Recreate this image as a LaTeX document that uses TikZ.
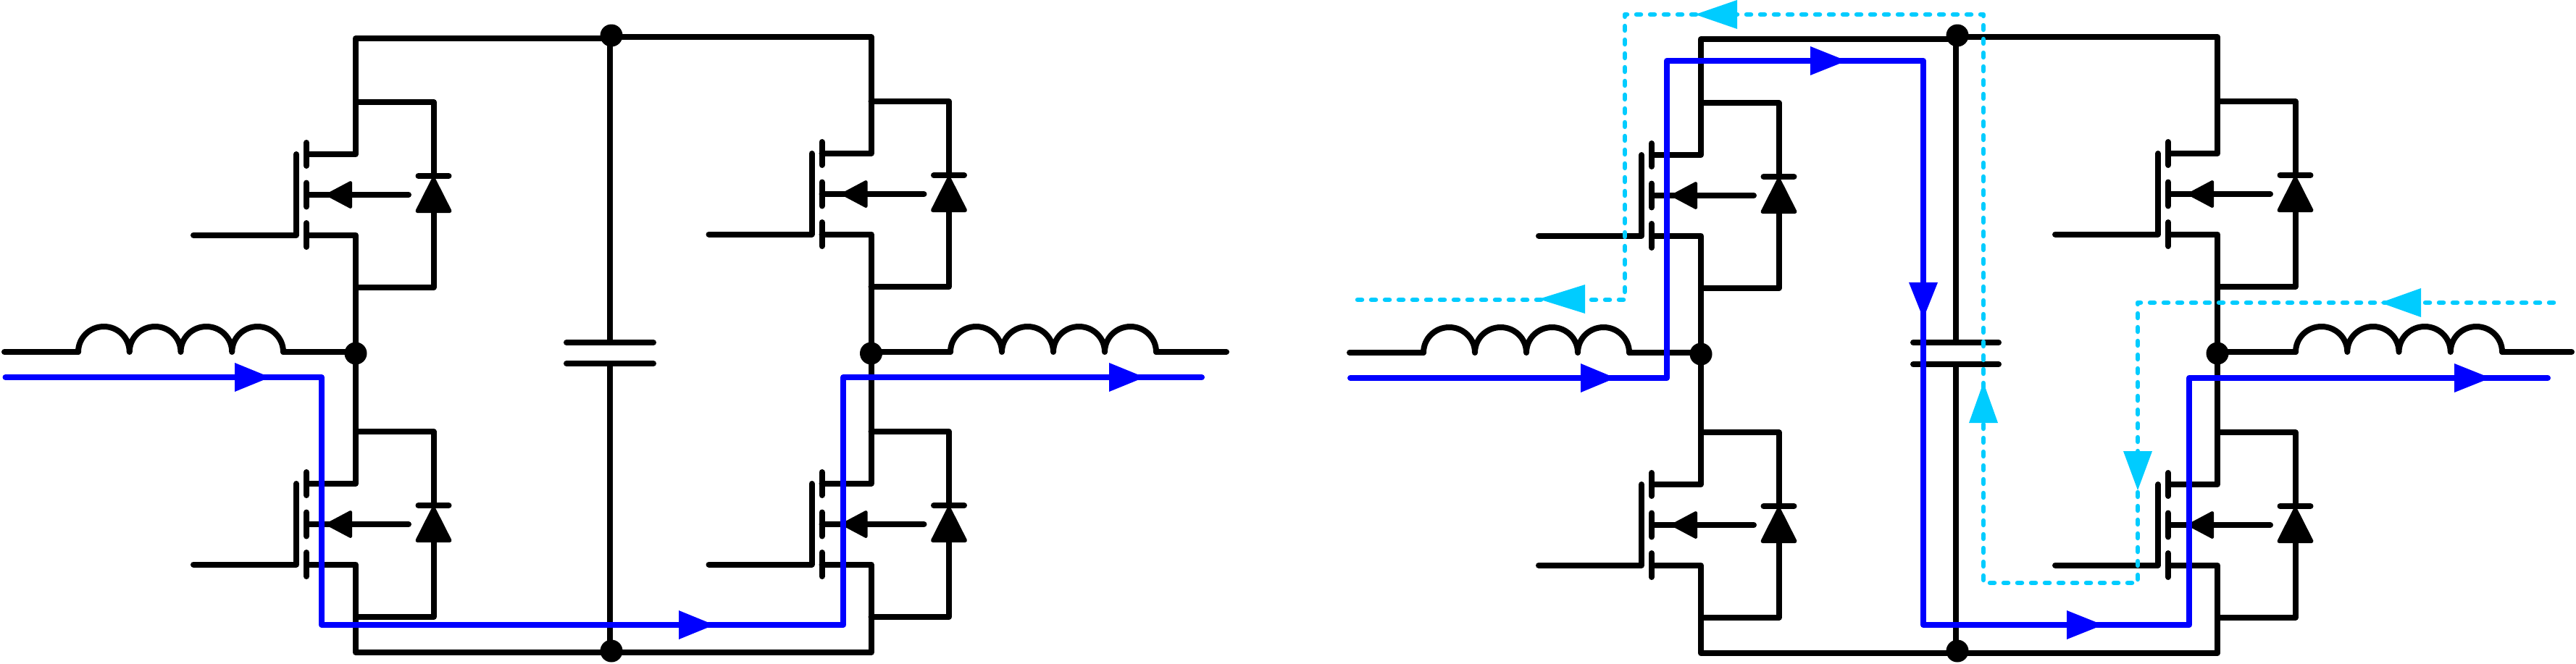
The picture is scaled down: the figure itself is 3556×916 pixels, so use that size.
\documentclass[tikz,border=0pt]{standalone}
\definecolor{flowblue}{RGB}{0,0,255}
\definecolor{flowcyan}{RGB}{0,204,255}
\tikzset{
  wire/.style={draw=black,line width=8pt,line cap=round,line join=round},
  bodyhead/.style={fill=black,draw=black,line width=4pt,line join=round},
  diodehead/.style={fill=black,draw=black,line width=5pt,line join=round},
  junction/.style={circle,fill=black,draw=none,inner sep=0pt,minimum size=31pt},
  mainflow/.style={draw=flowblue,line width=8pt,line cap=round,line join=round},
  altflow/.style={draw=flowcyan,line width=6.5pt,line cap=round,line join=round,dash pattern=on 6pt off 13pt},
}
% MOSFET with antiparallel diode; (0,0) is the top junction on the leg's vertical
\newcommand{\mosleg}[3]{%
\begin{scope}[shift={(#2,#3)}]
  \coordinate (#1-d) at (0,0);
  \coordinate (#1-b) at (0,256);
  \coordinate (#1-drain) at (0,72);
  \coordinate (#1-src) at (0,183.5);
  \coordinate (#1-dx) at (107.5,0);
  \coordinate (#1-bx) at (107.5,256);
  \coordinate (#1-bar) at (107.5,102);
  \coordinate (#1-base) at (107.5,150);
  \coordinate (#1-ch1) at (-68,72);
  \coordinate (#1-ch3) at (-68,183.5);
  \coordinate (#1-g) at (-82,183.5);
  \coordinate (#1-gt) at (-82,72);
  \coordinate (#1-gin) at (-224,183.5);
  \coordinate (#1-bs) at (-68,128);
  \coordinate (#1-be) at (73,128);
  \draw[wire] (#1-d) -- (#1-drain) -- (#1-ch1);
  \draw[wire] (#1-ch3) -- (#1-src) -- (#1-b);
  \draw[wire] (#1-d) -- (#1-dx) -- (#1-bar);
  \draw[wire] (#1-b) -- (#1-bx) -- (#1-base);
  \draw[wire] (107.5-21,102) -- (107.5+21,102);
  \draw[diodehead] (107.5,106) -- (107.5-22.5,150.5) -- (107.5+22.5,150.5) -- cycle;
  \draw[wire] (-68,56) -- (-68,88);
  \draw[wire] (-68,111.5) -- (-68,144.5);
  \draw[wire] (-68,167) -- (-68,200);
  \draw[wire] (#1-gt) -- (#1-g) -- (#1-gin);
  \draw[wire] (#1-bs) -- (#1-be);
  \draw[bodyhead] (-39,128) -- (-7,128-17) -- (-7,128+17) -- cycle;
\end{scope}}
% four-turn winding from (#1,#2), span #3
\newcommand{\coilpath}[3]{%
  \pgfmathsetmacro{\coilr}{#3/8}
  \draw[wire] (#1,#2)
    arc[start angle=180,end angle=0,x radius=\coilr pt,y radius=35pt]
    arc[start angle=180,end angle=0,x radius=\coilr pt,y radius=35pt]
    arc[start angle=180,end angle=0,x radius=\coilr pt,y radius=35pt]
    arc[start angle=180,end angle=0,x radius=\coilr pt,y radius=35pt];}
% flow arrowheads: colour, base, apex, cross position
\newcommand{\hhead}[4]{\fill[#1] (#2,#4-20) -- (#3,#4) -- (#2,#4+20) -- cycle;}
\newcommand{\vhead}[4]{\fill[#1] (#4-20,#2) -- (#4,#3) -- (#4+20,#2) -- cycle;}
\begin{document}
\begin{tikzpicture}[x=1pt,y=-1pt]
\path[use as bounding box,fill=white] (0,0) rectangle (3556,916);
%% ---------- left circuit ----------
\mosleg{ALT}{491}{141}
\mosleg{ALB}{491}{596}
\mosleg{ART}{1202.5}{140}
\mosleg{ARB}{1202.5}{596}
\node[junction] (AT) at (844,49) {};
\node[junction] (AB) at (844,899) {};
\node[junction] (AL) at (491,488) {};
\node[junction] (AR) at (1202.5,488) {};
\coordinate (ATl) at (844,53);
\coordinate (ATr) at (844,51);
\coordinate (ABb) at (844,901);
\coordinate (ACt) at (842,473);
\coordinate (ACb) at (842,502);
\coordinate (ATv) at (842,49);
\coordinate (ABv) at (842,899);
\coordinate (ACt1) at (782,473);
\coordinate (ACt2) at (902,473);
\coordinate (ACb1) at (782,502);
\coordinate (ACb2) at (902,502);
\draw[wire] (ATl) -| (ALT-d);
\draw[wire] (ATr) -| (ART-d);
\draw[wire] (ALB-b) |- (ABb);
\draw[wire] (ARB-b) |- (ABb);
\draw[wire] (ATv) -- (ACt);
\draw[wire] (ACb) -- (ABv);
\draw[wire] (ACt1) -- (ACt2);
\draw[wire] (ACb1) -- (ACb2);
\draw[wire] (ALT-b) -- (AL) -- (ALB-d);
\draw[wire] (ART-b) -- (AR) -- (ARB-d);
\coordinate (ALi) at (6,486);
\coordinate (ALs) at (108,486);
\coordinate (ALe) at (391,486);
\coordinate (ALn) at (491,486);
\coordinate (ARn) at (1202.5,486);
\coordinate (ARs) at (1312,486);
\coordinate (ARe) at (1596,486);
\coordinate (ARo) at (1693,486);
\draw[wire] (ALi) -- (ALs);
\coilpath{108}{486}{283}
\draw[wire] (ALe) -- (ALn);
\draw[wire] (ARn) -- (ARs);
\coilpath{1312}{486}{284}
\draw[wire] (ARe) -- (ARo);
%% ---------- right circuit ----------
\mosleg{BLT}{2348}{142}
\mosleg{BLB}{2348}{597}
\mosleg{BRT}{3061}{140}
\mosleg{BRB}{3061}{597}
\node[junction] (BT) at (2702,49) {};
\node[junction] (BB) at (2702,899) {};
\node[junction] (BL) at (2348,489) {};
\node[junction] (BR) at (3061,488) {};
\coordinate (BTl) at (2702,54);
\coordinate (BTr) at (2702,51);
\coordinate (BBb) at (2702,902);
\coordinate (BTv) at (2700,49);
\coordinate (BBv) at (2700,899);
\coordinate (BCt) at (2700,473);
\coordinate (BCb) at (2700,503);
\coordinate (BCt1) at (2641,473);
\coordinate (BCt2) at (2759,473);
\coordinate (BCb1) at (2641,503);
\coordinate (BCb2) at (2759,503);
\draw[wire] (BTl) -| (BLT-d);
\draw[wire] (BTr) -| (BRT-d);
\draw[wire] (BLB-b) |- (BBb);
\draw[wire] (BRB-b) |- (BBb);
\draw[wire] (BTv) -- (BCt);
\draw[wire] (BCb) -- (BBv);
\draw[wire] (BCt1) -- (BCt2);
\draw[wire] (BCb1) -- (BCb2);
\draw[wire] (BLT-b) -- (BL) -- (BLB-d);
\draw[wire] (BRT-b) -- (BR) -- (BRB-d);
\coordinate (BLi) at (1863,487);
\coordinate (BLs) at (1965,487);
\coordinate (BLe) at (2249,487);
\coordinate (BLn) at (2348,487);
\coordinate (BRn) at (3061,486);
\coordinate (BRs) at (3169,486);
\coordinate (BRe) at (3454,486);
\coordinate (BRo) at (3550,486);
\draw[wire] (BLi) -- (BLs);
\coilpath{1965}{487}{284}
\draw[wire] (BLe) -- (BLn);
\draw[wire] (BRn) -- (BRs);
\coilpath{3169}{486}{285}
\draw[wire] (BRe) -- (BRo);
%% ---------- current paths ----------
\coordinate (f1) at (7.5,521);
\coordinate (f2) at (444,521);
\coordinate (f3) at (444,863);
\coordinate (f4) at (1164,863);
\coordinate (f5) at (1164,521);
\coordinate (f6) at (1659,521);
\draw[mainflow] (f1) -- (f2) -- (f3) -- (f4) -- (f5) -- (f6);
\hhead{flowblue}{324}{373}{521}
\hhead{flowblue}{937}{986}{863}
\hhead{flowblue}{1531}{1580}{521}
\coordinate (g1) at (1864,522);
\coordinate (g2) at (2301,522);
\coordinate (g3) at (2301,84);
\coordinate (g4) at (2655,84);
\coordinate (g5) at (2655,863);
\coordinate (g6) at (3022,863);
\coordinate (g7) at (3022,522);
\coordinate (g8) at (3517,522);
\draw[mainflow] (g1) -- (g2) -- (g3) -- (g4) -- (g5) -- (g6) -- (g7) -- (g8);
\hhead{flowblue}{2182}{2230}{522}
\hhead{flowblue}{2499}{2549}{84}
\vhead{flowblue}{390}{440}{2655}
\hhead{flowblue}{2853}{2903}{863}
\hhead{flowblue}{3388}{3438}{522}
\coordinate (h1) at (3525,418);
\coordinate (h2) at (2951,418);
\coordinate (h3) at (2951,805);
\coordinate (h4) at (2738,805);
\coordinate (h5) at (2738,20);
\coordinate (h6) at (2243,20);
\coordinate (h7) at (2243,414);
\coordinate (h8) at (1873,414);
\draw[altflow] (h1) -- (h2) -- (h3) -- (h4) -- (h5) -- (h6) -- (h7) -- (h8);
\hhead{flowcyan}{3342}{3286}{418}
\vhead{flowcyan}{623}{677}{2951}
\vhead{flowcyan}{584}{528}{2738}
\hhead{flowcyan}{2398}{2340}{20}
\hhead{flowcyan}{2188}{2124}{413}
\end{tikzpicture}
\end{document}
